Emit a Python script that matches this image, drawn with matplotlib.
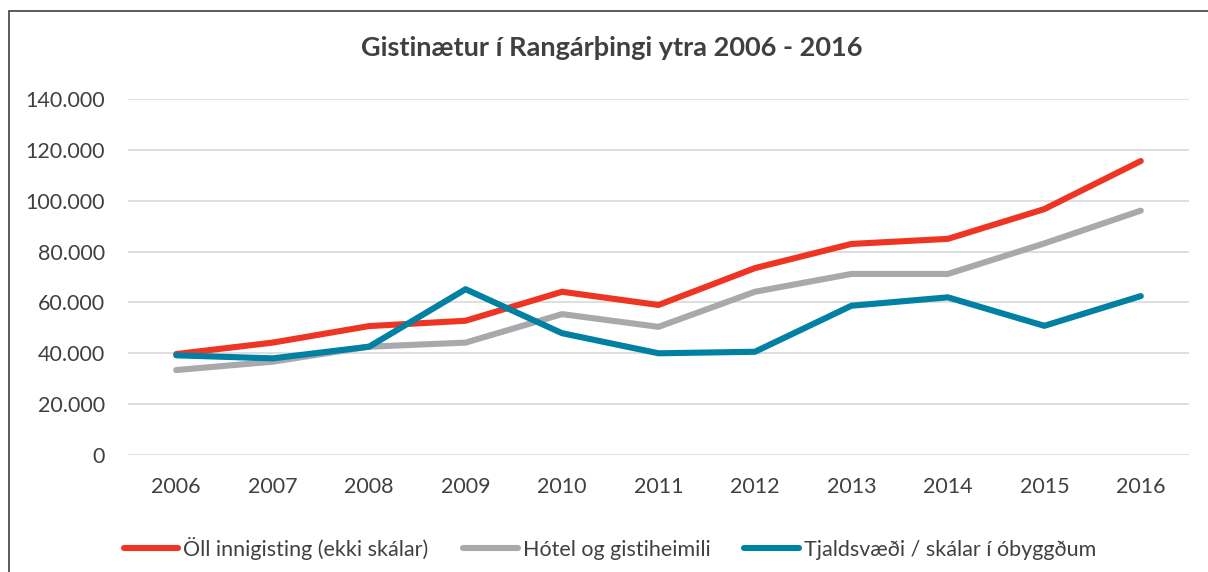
import matplotlib
matplotlib.use("Agg")
import matplotlib.pyplot as plt
from matplotlib.patches import Rectangle
from matplotlib.ticker import FuncFormatter

years = ["2006", "2007", "2008", "2009", "2010", "2011", "2012", "2013", "2014", "2015", "2016"]
oll_innigisting = [39700, 44200, 50700, 52800, 64200, 59000, 73500, 83000, 85000, 96700, 115600]
hotel_gisti = [33400, 36700, 42600, 44200, 55400, 50400, 64200, 71200, 71200, 83200, 96100]
tjaldsvaedi = [39200, 38000, 42600, 65200, 47900, 40000, 40600, 58700, 62000, 50800, 62500]
series_labels = ["Öll innigisting (ekki skálar)", "Hótel og gistiheimili", "Tjaldsvæði / skálar í óbyggðum"]
title = "Gistinætur í Rangárþingi ytra 2006 - 2016"

plt.rcParams['font.family'] = ['Lato', 'DejaVu Sans']
text_color = "#404040"

fig = plt.figure(figsize=(12.08, 5.72), dpi=100)
ax = fig.add_axes([128/1208, 1-455/572, (1189-128)/1208, (455-99)/572])

x = list(range(len(years)))
colors = ["#EE3524", "#A7A9AC", "#0080A3"]
for vals, c, lab in zip([oll_innigisting, hotel_gisti, tjaldsvaedi], colors, series_labels):
    ax.plot(x, vals, color=c, lw=4.4, label=lab, solid_capstyle='round', solid_joinstyle='round')

ax.set_xlim(-0.5, len(years)-0.5)
ax.set_ylim(0, 140000)
ax.set_yticks(range(0, 140001, 20000))
ax.yaxis.set_major_formatter(FuncFormatter(lambda v, p: f"{int(v):,}".replace(",", ".")))
ax.set_xticks(x)
ax.set_xticklabels(years)
ax.grid(axis='y', color="#D9D9D9", lw=1.2)
ax.set_axisbelow(True)
for s in ax.spines.values():
    s.set_visible(False)
ax.tick_params(axis='both', length=0, labelsize=15.5, colors=text_color)
ax.tick_params(axis='y', pad=16.5)
ax.tick_params(axis='x', pad=16)

fig.text(612/1208, 1-48/572, title, ha='center', va='center', fontsize=19.5, fontweight='bold', color=text_color)

leg = fig.legend(loc='center', bbox_to_anchor=(610/1208, 1-548/572), ncol=3, frameon=False,
                 fontsize=15.5, handlelength=2.55, handletextpad=0.23, columnspacing=1.58,
                 labelcolor=text_color)

fig.patches.append(Rectangle((8.5/1208, -0.1), 1.2, 1.1 - 10.5/572, transform=fig.transFigure,
                             fill=False, edgecolor="#404040", lw=1.2))

fig.savefig("out.png", dpi=100)
